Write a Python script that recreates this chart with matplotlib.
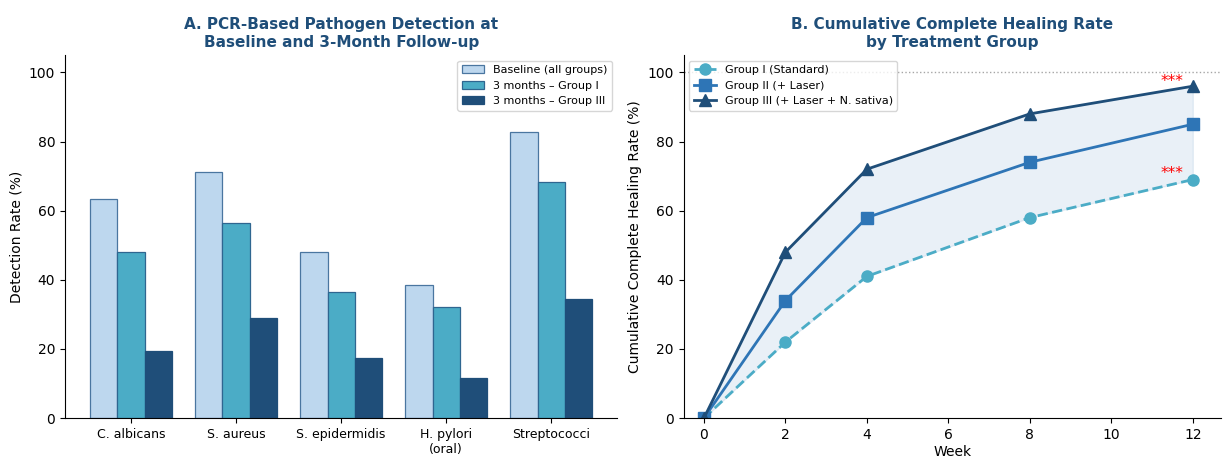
# Recreate PCR detection + healing rate figure
import numpy as np
import matplotlib.pyplot as plt

# Panel A data
pathogens = ["C. albicans", "S. aureus", "S. epidermidis", "H. pylori\n(oral)", "Streptococci"]
baseline = [63.3, 71.1, 48.1, 38.5, 82.7]
group1_3m = [48.1, 56.3, 36.4, 32.2, 68.4]
group3_3m = [19.3, 28.9, 17.3, 11.5, 34.6]

# Panel B data
weeks = [0, 2, 4, 8, 12]
heal_g1 = [0, 22, 41, 58, 69]
heal_g2 = [0, 34, 58, 74, 85]
heal_g3 = [0, 48, 72, 88, 96]

c_light = "#bdd7ee"
c_mid = "#4bacc6"
c_blue = "#2e75b6"
c_dark = "#1f4e79"

fig, (ax1, ax2) = plt.subplots(1, 2, figsize=(12.25, 4.59), dpi=100)
ax1.set_position([0.053, 0.089, 0.451, 0.791])
ax2.set_position([0.558, 0.089, 0.439, 0.791])

# Panel A
x = np.arange(len(pathogens))
w = 0.26
ax1.bar(x - w, baseline, w, color=c_light, edgecolor="#4a76a0", linewidth=0.9, label="Baseline (all groups)")
ax1.bar(x, group1_3m, w, color=c_mid, edgecolor="#2f6690", linewidth=0.9, label="3 months – Group I")
ax1.bar(x + w, group3_3m, w, color=c_dark, edgecolor="#1f4e79", linewidth=0.9, label="3 months – Group III")
ax1.set_xticks(x)
ax1.set_xticklabels(pathogens, fontsize=9)
ax1.set_ylim(0, 105)
ax1.set_ylabel("Detection Rate (%)", fontsize=10)
ax1.set_title("A. PCR-Based Pathogen Detection at\nBaseline and 3-Month Follow-up",
              fontsize=11, fontweight="bold", color=c_dark)
ax1.legend(fontsize=8, loc="upper right")
ax1.spines["top"].set_visible(False)
ax1.spines["right"].set_visible(False)

# Panel B
ax2.fill_between(weeks, heal_g1, heal_g3, color=c_blue, alpha=0.1)
ax2.plot(weeks, heal_g1, "--o", color=c_mid, linewidth=2, markersize=8, label="Group I (Standard)")
ax2.plot(weeks, heal_g2, "-s", color=c_blue, linewidth=2, markersize=8, label="Group II (+ Laser)")
ax2.plot(weeks, heal_g3, "-^", color=c_dark, linewidth=2, markersize=8, label="Group III (+ Laser + N. sativa)")
ax2.axhline(100, color="gray", linestyle=":", linewidth=1, alpha=0.7)
ax2.text(11.5, 95.3, "***", color="red", fontsize=11, ha="center", va="bottom")
ax2.text(11.5, 68.5, "***", color="red", fontsize=11, ha="center", va="bottom")
ax2.set_xticks([0, 2, 4, 6, 8, 10, 12])
ax2.set_xlim(-0.5, 12.7)
ax2.set_ylim(0, 105)
ax2.set_xlabel("Week", fontsize=10, labelpad=2)
ax2.set_ylabel("Cumulative Complete Healing Rate (%)", fontsize=10)
ax2.set_title("B. Cumulative Complete Healing Rate\nby Treatment Group",
              fontsize=11, fontweight="bold", color=c_dark)
ax2.legend(fontsize=8, loc="upper left")
ax2.spines["top"].set_visible(False)
ax2.spines["right"].set_visible(False)

plt.savefig("out.png", dpi=100)
